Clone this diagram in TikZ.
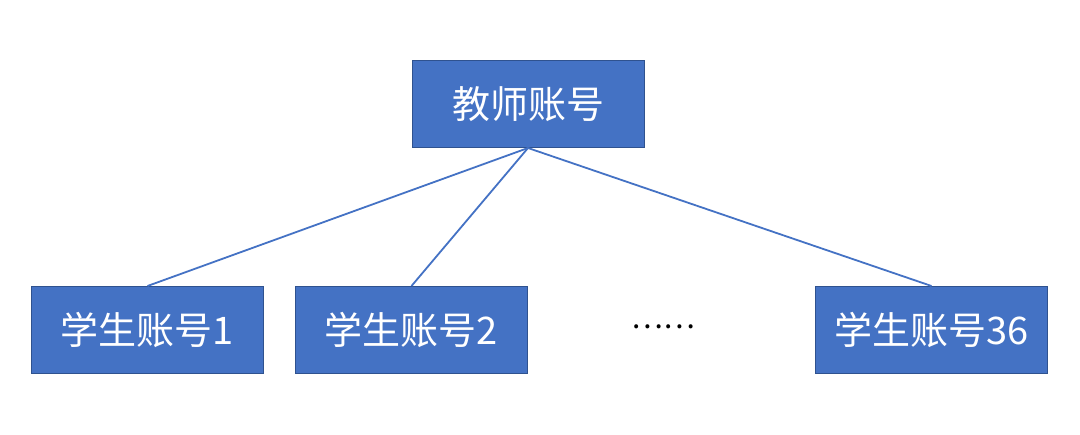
\documentclass[tikz,border=0pt]{standalone}
\usepackage{fontspec}
\newfontfamily\cjk{Noto Sans CJK SC}
\definecolor{boxblue}{HTML}{4472C4}
\definecolor{boxedge}{HTML}{2F528F}
\begin{document}
\begin{tikzpicture}[x=1pt,y=-1pt,
  acct/.style={draw=boxedge,line width=1pt,fill=boxblue,text=white,
    minimum width=232pt,minimum height=87pt,inner sep=0pt,
    font=\cjk\fontsize{38}{44}\selectfont},
  link/.style={draw=boxblue,line width=1.8pt}]
\useasboundingbox (0,0) rectangle (1080,435);
\node[acct] (t) at (528,104) {教师账号};
\node[acct] (s1) at (147.5,330) {学生账号1};
\node[acct] (s2) at (411.5,330) {学生账号2};
\node[acct] (s36) at (931.5,330) {学生账号36};
\node[font=\cjk\fontsize{30}{36}\selectfont] (dots) at (663,327) {……};
\draw[link] (t.south) -- (s1.north);
\draw[link] (t.south) -- (s2.north);
\draw[link] (t.south) -- (s36.north);
\end{tikzpicture}
\end{document}
